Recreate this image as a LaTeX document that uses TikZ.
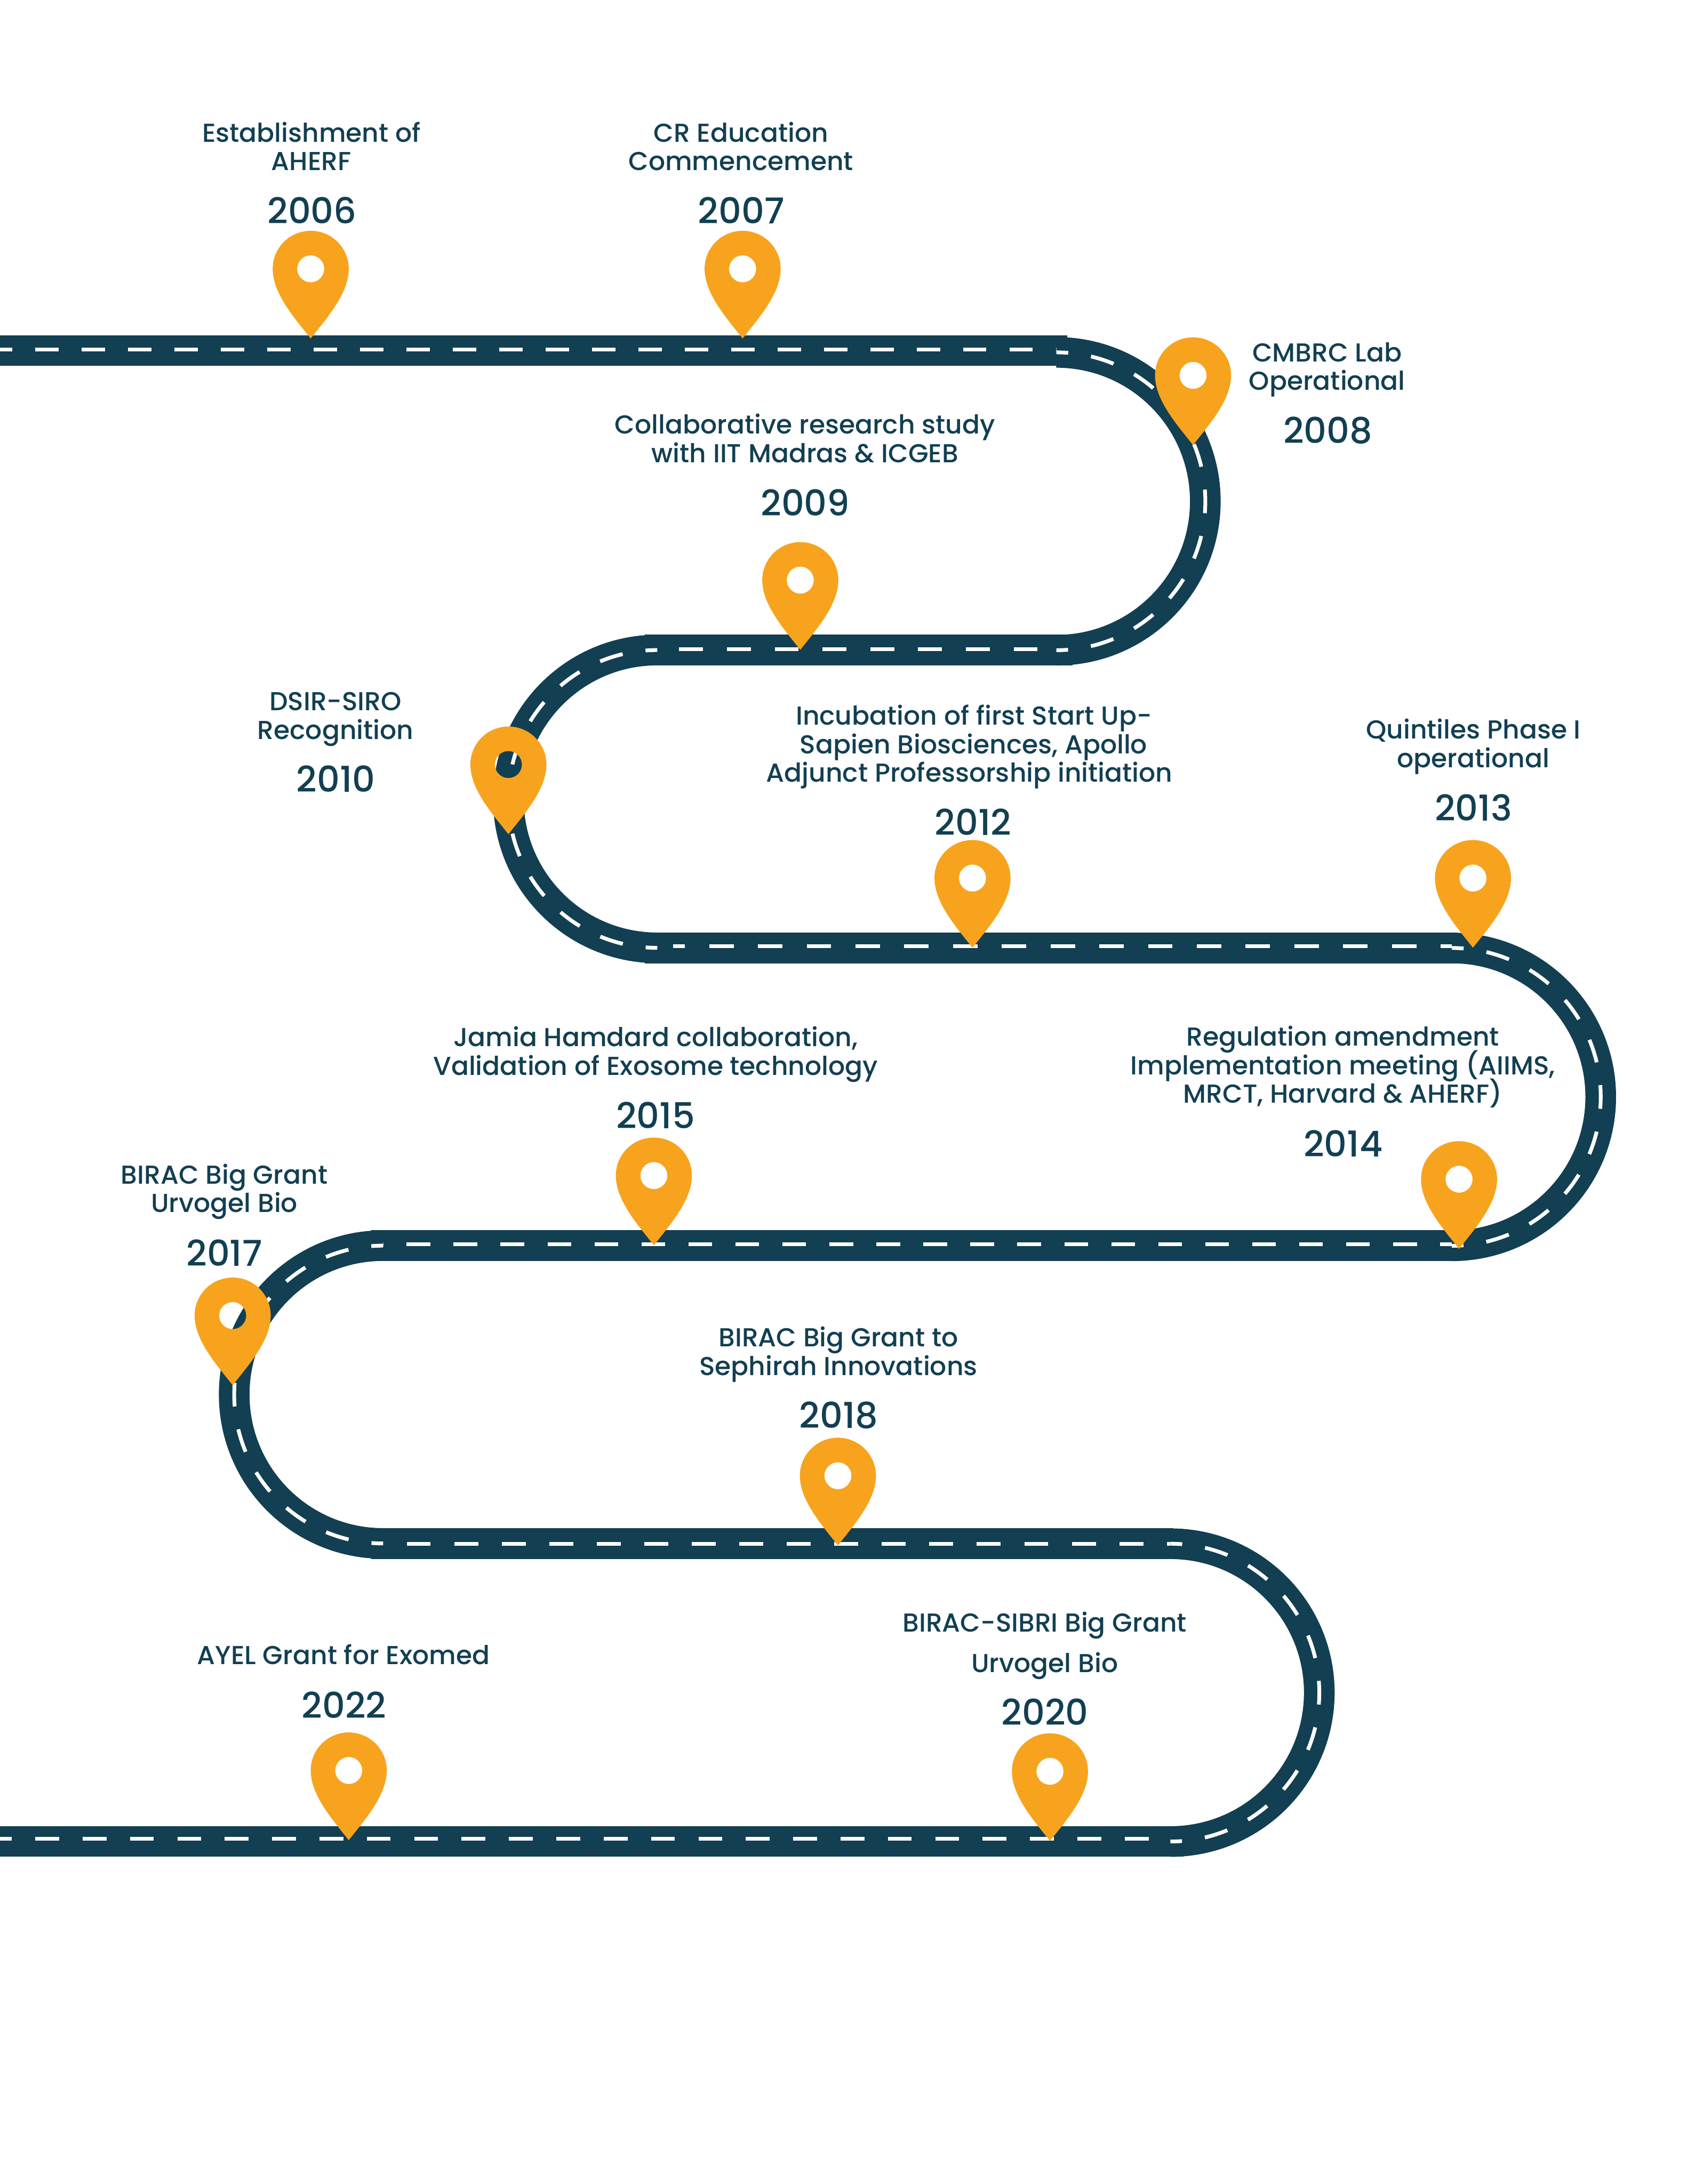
\documentclass[tikz,border=0pt]{standalone}
\usepackage{fontspec}
\setmainfont{Poppins Medium}
\definecolor{roadblue}{HTML}{123F52}
\definecolor{pinorange}{HTML}{F7A31E}
\newcommand{\descfont}{\fontsize{18.66}{20.5}\selectfont\lineskiplimit=-100pt\relax}
\tikzset{
    roadband/.style={line width=22pt,color=roadblue},
    roadline/.style={line width=2.7pt,color=white},
    arcline/.style={roadline,dash pattern=on 17pt off 16.6pt,dash phase=8.5pt},
    desctext/.style={inner sep=0pt,align=center,text=roadblue,font=\descfont},
    yeartext/.style={inner sep=0pt,text=roadblue,font=\fontsize{25.6}{26}\selectfont},
    mappin/.pic={
        \fill[pinorange,even odd rule] (0,0) .. controls (-11,-14) and (-27.3,-32) .. (-27.3,-50)
            arc (180:360:27.3) .. controls (27.3,-32) and (11,-14) .. (0,0) -- cycle
            (0,-50) circle (9.7);
    }
}
\begin{document}
\begin{tikzpicture}[x=1pt,y=-1pt]
    \useasboundingbox (0,0) rectangle (1222,1568);

    % Straight parts of the road
    \draw[roadband] (0,251.6) -- (766,251.6);
    \draw[roadline,dash pattern=on 16.8pt off 16.5pt,dash phase=8.1pt] (0,251) -- (758,251);
    \draw[roadband] (463,466.7) -- (770,466.7);
    \draw[roadline,dash pattern=on 17.1pt off 17.2pt,dash phase=9.8pt] (463,466) -- (758,466);
    \draw[roadband] (463,680.6) -- (1046,680.6);
    \draw[roadline,dash pattern=on 17.6pt off 17.4pt,dash phase=9pt] (483,679.3) -- (1042,679.3);
    \draw[roadband] (266.5,894.3) -- (1046,894.3);
    \draw[roadline,dash pattern=on 17pt off 16.72pt,dash phase=8.4pt] (266.5,893.2) -- (1042,893.2);
    \draw[roadband] (266.5,1108.3) -- (842,1108.3);
    \draw[roadline,dash pattern=on 17.2pt off 16.9pt,dash phase=8.7pt] (266.5,1108.5) -- (840,1108.5);
    \draw[roadband] (0,1322) -- (849.5,1322);
    \draw[roadline,dash pattern=on 17.1pt off 16.9pt,dash phase=8.7pt] (0,1320) -- (840,1320);

    % Bends of the road
    \draw[roadband] (758.2,253) arc (-90:90:106.9);
    \draw[arcline] (758.2,253) arc (-90:90:106.9);
    \draw[roadband] (471.8,466.7) arc (270:90:106.9);
    \draw[arcline] (471.8,466.7) arc (270:90:106.9);
    \draw[roadband] (1042,680.6) arc (-90:90:106.9);
    \draw[arcline] (1042,680.6) arc (-90:90:106.9);
    \draw[roadband] (275,894.3) arc (270:90:106.9);
    \draw[arcline] (275,894.3) arc (270:90:106.9);
    \draw[roadband] (840,1108.3) arc (-90:90:106.9);
    \draw[arcline] (840,1108.3) arc (-90:90:106.9);

    % Map pins, tip on the road
    \pic (pinA) at (223,243) {mappin};
    \pic (pinB) at (533,243) {mappin};
    \pic (pinC) at (856.3,319.5) {mappin};
    \pic (pinD) at (574.4,466.5) {mappin};
    \pic (pinE) at (364.9,598.9) {mappin};
    \pic (pinF) at (698,680.4) {mappin};
    \pic (pinG) at (1057.2,680.4) {mappin};
    \pic (pinH) at (1047.2,896.6) {mappin};
    \pic (pinI) at (469.3,894) {mappin};
    \pic (pinJ) at (167,994.5) {mappin};
    \pic (pinK) at (601.4,1109.5) {mappin};
    \pic (pinL) at (753.6,1321.7) {mappin};
    \pic (pinM) at (250.3,1321.1) {mappin};

    % Descriptions
    \node[desctext] (descA) at (223.5,105) {Establishment of\\AHERF};
    \node[desctext] (descB) at (531.8,105) {CR Education\\Commencement};
    \node[desctext] (descC) at (952.5,265.5) {CMBRC Lab\\Operational};
    \node[desctext] (descD) at (577.8,314.7) {Collaborative research study\\with IIT Madras \& ICGEB};
    \node[desctext] (descE) at (240.8,516.5) {DSIR-SIRO\\Recognition};
    \node[desctext] (descF) at (695.8,536.3) {\hspace*{6.5pt}Incubation of first Start Up-\\\hspace*{6pt}Sapien Biosciences, Apollo\\Adjunct Professorship initiation};
    \node[desctext] (descG) at (1057.5,536) {Quintiles Phase I\\operational};
    \node[desctext] (descH) at (963.8,766) {Regulation amendment\\Implementation meeting (AIIMS,\\MRCT, Harvard \& AHERF)};
    \node[desctext] (descI) at (470.5,757) {Jamia Hamdard collaboration,\\Validation of Exosome technology};
    \node[desctext] (descJ) at (161,855.5) {BIRAC Big Grant\\Urvogel Bio};
    \node[desctext] (descK) at (601.8,972.3) {BIRAC Big Grant to\\Sephirah Innovations};
    \node[desctext] (descL) at (749.8,1167) {BIRAC-SIBRI Big Grant};
    \node[desctext] (descLb) at (749.8,1196) {Urvogel Bio};
    \node[desctext] (descM) at (246.5,1188) {AYEL Grant for Exomed};

    % Years
    \node[yeartext] (yearA) at (224,151) {2006};
    \node[yeartext] (yearB) at (532,151) {2007};
    \node[yeartext] (yearC) at (953,309) {2008};
    \node[yeartext] (yearD) at (578,361) {2009};
    \node[yeartext] (yearE) at (241,559) {2010};
    \node[yeartext] (yearF) at (698.5,590) {2012};
    \node[yeartext] (yearG) at (1057.5,580) {2013};
    \node[yeartext] (yearH) at (964,821) {2014};
    \node[yeartext] (yearI) at (470.5,800.5) {2015};
    \node[yeartext] (yearJ) at (161,899.5) {2017};
    \node[yeartext] (yearK) at (602,1016) {2018};
    \node[yeartext] (yearL) at (750,1229) {2020};
    \node[yeartext] (yearM) at (247,1224) {2022};
\end{tikzpicture}
\end{document}
